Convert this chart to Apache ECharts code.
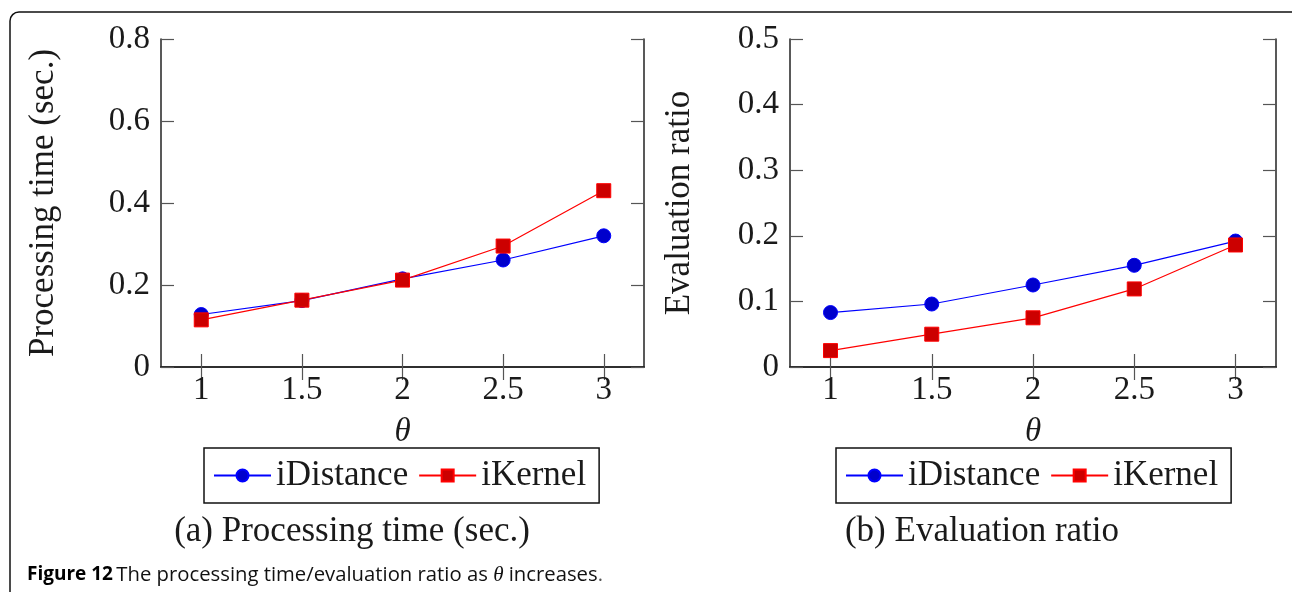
<!DOCTYPE html>
<html><head><meta charset="utf-8">
<script src="https://cdn.jsdelivr.net/npm/echarts@6/dist/echarts.min.js"></script>
<style>html,body{margin:0;padding:0;background:#fff}#c{width:1292px;height:592px}</style>
</head><body><div id="c"></div>
<script>
// ---- data ----
const thetaValues = [1, 1.5, 2, 2.5, 3];
const timeIDistance = [0.128, 0.162, 0.215, 0.261, 0.320];
const timeIKernel = [0.115, 0.163, 0.212, 0.295, 0.430];
const ratioIDistance = [0.083, 0.096, 0.125, 0.155, 0.192];
const ratioIKernel = [0.025, 0.050, 0.075, 0.119, 0.186];
const seriesNames = ['iDistance', 'iKernel'];
const timeTicks = [0, 0.2, 0.4, 0.6, 0.8];
const ratioTicks = [0, 0.1, 0.2, 0.3, 0.4, 0.5];

const SERIF = 'Liberation Serif';
const FS_TICK = 33;
const FS = 35;
const pairs = arr => thetaValues.map((t, i) => [t, arr[i]]);

function xAx(gi, pos, show) {
  return {
    type: 'value', gridIndex: gi, position: pos, min: 0.8, max: 3.2,
    name: show ? 'θ' : '', nameLocation: 'middle', nameGap: 49,
    nameTextStyle: {fontFamily: SERIF, fontSize: 33, fontStyle: 'italic', color: '#1a1a1a'},
    axisLine: {show: true, lineStyle: {color: '#222', width: 1.5}},
    axisTick: {show: true, inside: true, length: 13, customValues: thetaValues, lineStyle: {color: '#555', width: 1.2}},
    axisLabel: {show: show, customValues: thetaValues, margin: 7, fontFamily: SERIF, fontSize: FS_TICK, color: '#1a1a1a',
      formatter: v => String(v)},
    splitLine: {show: false}
  };
}
function yAx(gi, pos, show, ticks, name, gap) {
  return {
    type: 'value', gridIndex: gi, position: pos, min: ticks[0], max: ticks[ticks.length - 1],
    name: show ? name : '', nameLocation: 'middle', nameGap: gap, nameRotate: 90,
    nameTextStyle: {fontFamily: SERIF, fontSize: FS, color: '#1a1a1a'},
    axisLine: {show: true, lineStyle: {color: '#222', width: 1.5}},
    axisTick: {show: true, inside: true, length: 13, customValues: ticks, lineStyle: {color: '#555', width: 1.2}},
    axisLabel: {show: show, customValues: ticks, margin: 11, fontFamily: SERIF, fontSize: FS_TICK, color: '#1a1a1a',
      formatter: v => v === 0 ? '0' : v.toFixed(1)},
    splitLine: {show: false}
  };
}
function ser(name, data, xi, yi) {
  const blue = name === 'iDistance';
  return {
    name: name, type: 'line', xAxisIndex: xi, yAxisIndex: yi, data: data,
    symbol: blue ? 'circle' : 'rect', symbolSize: 14,
    itemStyle: {color: blue ? '#0000cc' : '#cc0000', borderColor: blue ? '#0000ff' : '#ff0000', borderWidth: 1},
    lineStyle: {color: blue ? '#0000ff' : '#ff0000', width: 1.2},
    animation: false
  };
}
function legend(left) {
  return {
    data: seriesNames, left: left, top: 448, orient: 'horizontal',
    itemWidth: 57, itemHeight: 15, itemGap: 10, padding: [10, 13, 10, 9],
    borderColor: '#111', borderWidth: 1.5, backgroundColor: '#fff',
    textStyle: {fontFamily: SERIF, fontSize: FS, color: '#1a1a1a'},
    selectedMode: false
  };
}

const chart = echarts.init(document.getElementById('c'));
chart.setOption({
  backgroundColor: '#fff',
  animation: false,
  grid: [
    {left: 161, top: 39, width: 483, height: 328},
    {left: 790, top: 39, width: 486, height: 328}
  ],
  xAxis: [xAx(0, 'bottom', true), xAx(0, 'top', false), xAx(1, 'bottom', true), xAx(1, 'top', false)],
  yAxis: [
    yAx(0, 'left', true, timeTicks, 'Processing time (sec.)', 100), yAx(0, 'right', false, timeTicks, '', 0),
    yAx(1, 'left', true, ratioTicks, 'Evaluation ratio', 93), yAx(1, 'right', false, ratioTicks, '', 0)
  ],
  legend: [legend(204), legend(836)],
  series: [
    ser('iDistance', pairs(timeIDistance), 0, 0),
    ser('iKernel', pairs(timeIKernel), 0, 0),
    ser('iDistance', pairs(ratioIDistance), 2, 2),
    ser('iKernel', pairs(ratioIKernel), 2, 2)
  ],
  graphic: [
    {type: 'rect', z: -1, shape: {x: 10, y: 12, width: 1300, height: 640, r: 9},
      style: {fill: 'none', stroke: '#111', lineWidth: 1.5}},
    {type: 'text', x: 352, y: 532, style: {text: '(a) Processing time (sec.)', textAlign: 'center', textVerticalAlign: 'middle',
      fontFamily: SERIF, fontSize: FS, fill: '#1a1a1a'}},
    {type: 'text', x: 982, y: 532, style: {text: '(b) Evaluation ratio', textAlign: 'center', textVerticalAlign: 'middle',
      fontFamily: SERIF, fontSize: FS, fill: '#1a1a1a'}},
    {type: 'text', x: 27, y: 575, style: {
      text: '{b|Figure 12} {n|The processing time/evaluation ratio as }{t|θ}{n| increases}{d|.}',
      textVerticalAlign: 'middle',
      rich: {
        b: {fontFamily: 'Open Sans', fontWeight: 'bold', fontSize: 19, fill: '#000'},
        n: {fontFamily: 'Open Sans', fontWeight: 'normal', fontSize: 20.3, fill: '#111'},
        t: {fontFamily: SERIF, fontStyle: 'italic', fontSize: 21, fill: '#111'},
        d: {fontFamily: 'Open Sans', fontSize: 20, fill: '#555'}
      }
    }}
  ]
});
</script></body></html>
